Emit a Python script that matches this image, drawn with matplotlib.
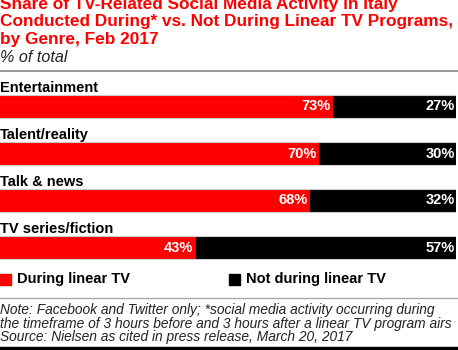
import matplotlib
matplotlib.use("Agg")
import matplotlib.pyplot as plt

categories = ["Entertainment", "Talent/reality", "Talk & news", "TV series/fiction"]
during = [73, 70, 68, 43]
not_during = [27, 30, 32, 57]
series_names = ["During linear TV", "Not during linear TV"]

RED = "#ff0000"
W, H = 458, 350
fig = plt.figure(figsize=(W / 100, H / 100), dpi=100)
fam = ["Liberation Sans", "DejaVu Sans"]

def fy(px):
    return 1 - px / H

# title
title_lines = ["Share of TV-Related Social Media Activity in Italy",
               "Conducted During* vs. Not During Linear TV Programs,",
               "by Genre, Feb 2017"]
for k, line in enumerate(title_lines):
    fig.text(0.0, fy(8.5 + 17.6 * k), line, color=RED, fontsize=12.4, fontweight="bold",
             family=fam, va="baseline", ha="left")
fig.text(0.0, fy(62.5), "% of total", fontsize=11.6, style="italic",
         family=fam, va="baseline", ha="left", color="#222222")
fig.add_artist(plt.Line2D([0, 1], [fy(71), fy(71)], color="#999999", lw=1.5))

# bars axes
top_px, bot_px = 72, 260
ax = fig.add_axes([0, fy(bot_px), 456 / W, (bot_px - top_px) / H])
pitch = 47.0
c0 = (106.5 - top_px) / pitch
ax.set_ylim(-c0 + (bot_px - top_px) / pitch, -c0)
ax.set_xlim(0, 100)
ax.axis("off")
ypos = list(range(len(categories)))
bh = 22 / pitch
ax.barh(ypos, during, height=bh, color=RED, edgecolor="none")
ax.barh(ypos, not_during, left=during, height=bh, color="black", edgecolor="none")
for i, cat in enumerate(categories):
    ax.text(0, i - 18.5 / pitch, cat, fontsize=10.5, fontweight="bold", family=fam,
            va="center", ha="left", color="black")
    ax.plot([0, 100], [i - bh / 2 - 0.5 / pitch] * 2, color="#cccccc", lw=0.8)
    ax.plot([0, 100], [i + bh / 2 + 0.5 / pitch] * 2, color="#cccccc", lw=0.8)
    ax.text(during[i] - 0.6, i, f"{during[i]}%", fontsize=10.5, fontweight="bold",
            family=fam, color="white", va="center", ha="right")
    ax.text(99.8, i, f"{not_during[i]}%", fontsize=10.5, fontweight="bold",
            family=fam, color="white", va="center", ha="right")

# legend
for x0, col, name in [(0, RED, series_names[0]), (229, "black", series_names[1])]:
    fig.add_artist(plt.Rectangle((x0 / W, fy(285)), 11 / W, 11 / H, color=col,
                                 transform=fig.transFigure))
    fig.text((x0 + 17) / W, fy(279.5), name, fontsize=10.5, fontweight="bold",
             family=fam, va="center", ha="left")
fig.add_artist(plt.Line2D([0, 1], [fy(298), fy(298)], color="#aaaaaa", lw=1))

note_lines = ["Note: Facebook and Twitter only; *social media activity occurring during",
              "the timeframe of 3 hours before and 3 hours after a linear TV program airs",
              "Source: Nielsen as cited in press release, March 20, 2017"]
for k, line in enumerate(note_lines):
    fig.text(0.0, fy(314 + 13.6 * k), line, fontsize=9.9, style="italic", family=fam,
             va="baseline", ha="left", color="#222222")
fig.add_artist(plt.Rectangle((0, 0), 1, 3.5 / H, color="black",
                             transform=fig.transFigure))

fig.savefig("out.png", dpi=100)
